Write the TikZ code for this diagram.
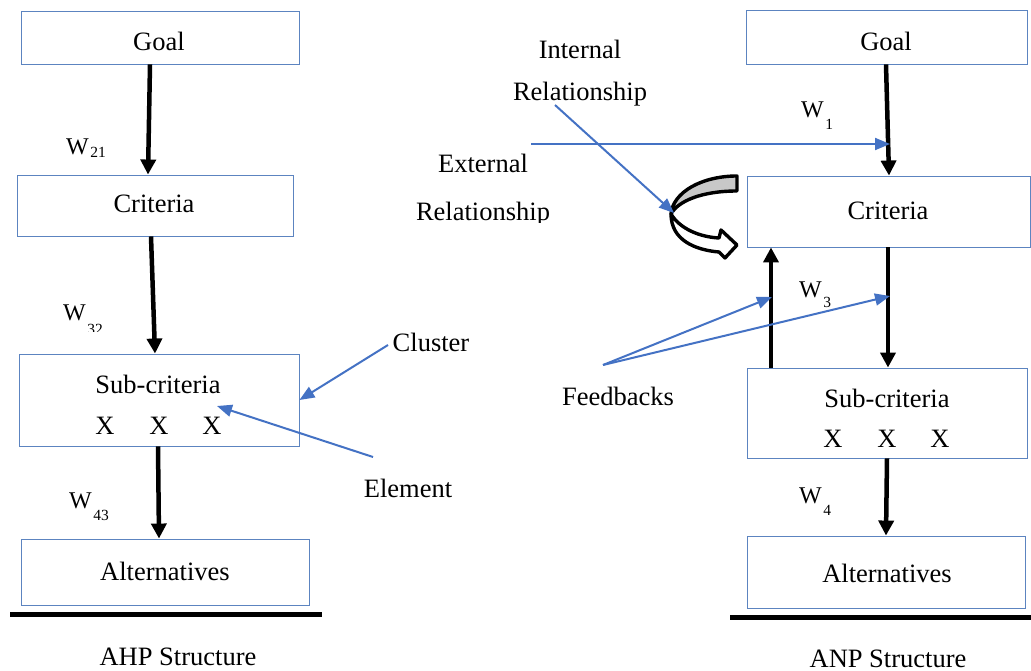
\documentclass[tikz,border=0pt]{standalone}
\usepackage{fontspec}
\setmainfont{Liberation Serif}
\usetikzlibrary{arrows.meta}
\definecolor{boxblue}{RGB}{92,132,192}
\definecolor{arrblue}{RGB}{68,114,196}
\definecolor{bandgray}{RGB}{200,200,200}
\newcommand{\Wlab}[2]{W\kern1.5pt\raisebox{-#2}{\fontsize{15.5}{15.5}\selectfont #1}}
\begin{document}
\begin{tikzpicture}[x=1pt,y=-1pt,
  box/.style={draw=boxblue, line width=0.9pt, inner sep=0pt},
  txt/.style={font=\fontsize{26.5}{31}\selectfont, inner sep=0pt, anchor=base},
  wtxt/.style={font=\fontsize{24}{28}\selectfont, inner sep=0pt, anchor=base west},
  blk/.style={line width=4.5pt, -{Triangle[length=15pt,width=15pt]}},
  blu/.style={draw=arrblue, line width=2pt, -{Triangle[length=15pt,width=12pt]}},
  baseline/.style={line width=5pt}]
\useasboundingbox (0,0) rectangle (1031,671);

% ---------- AHP (left) ----------
\node[box, minimum width=278pt, minimum height=53pt] (g1) at (160,37.5) {};
\node[box, minimum width=276pt, minimum height=61pt] (c1) at (155,205.5) {};
\node[box, minimum width=280pt, minimum height=92pt] (s1) at (159,400) {};
\node[box, minimum width=288pt, minimum height=66pt] (a1) at (165,572) {};

\node[txt] (g1t) at (159,51) {Goal};
\node[txt] (c1t) at (154,213) {Criteria};
\node[txt] (s1t) at (158,393) {Sub-criteria};
\node[txt] (s1x1) at (105,434) {X};
\node[txt] (s1x2) at (159,434) {X};
\node[txt] (s1x3) at (212,434) {X};
\node[txt] (a1t) at (165,580) {Alternatives};
\node[txt] (ahp) at (178,665) {AHP Structure};

\draw[blk] ([xshift=-10pt]g1.south) -- ([xshift=-7pt]c1.north);
\draw[blk] ([xshift=-4pt]c1.south) -- ([xshift=-4pt]s1.north);
\draw[blk] ([xshift=-1pt]s1.south) -- ([xshift=-6pt]a1.north);

\node[wtxt] (w21) at (66,155) {\Wlab{21}{3pt}};
\begin{scope}
  \clip (40,290) rectangle (130,331);
  \node[wtxt] (w32) at (63,320) {\Wlab{32}{14pt}};
\end{scope}
\node[wtxt] (w43) at (69,508) {\Wlab{43}{12pt}};

\node[txt] (cluster) at (431,351) {Cluster};
\node[txt] (element) at (408,497) {Element};
\coordinate (clst) at (388,345);
\coordinate (elst) at (373,457);
\coordinate (elend) at (217,406);
\draw[blu] (clst) -- (s1.east);
\draw[blu] (elst) -- (elend);

\draw[baseline] (10,614) -- (322,614);

% ---------- ANP (right) ----------
\node[box, minimum width=281pt, minimum height=54pt] (g2) at (886.5,37) {};
\node[box, minimum width=283pt, minimum height=71pt] (c2) at (888.5,211.5) {};
\node[box, minimum width=280pt, minimum height=90pt] (s2) at (887,413) {};
\node[box, minimum width=278pt, minimum height=72pt] (a2) at (886,572) {};

\node[txt] (g2t) at (886,51) {Goal};
\node[txt] (c2t) at (888,220) {Criteria};
\node[txt] (s2t) at (887,407) {Sub-criteria};
\node[txt] (s2x1) at (833,447) {X};
\node[txt] (s2x2) at (887,447) {X};
\node[txt] (s2x3) at (940,447) {X};
\node[txt] (a2t) at (887,582) {Alternatives};
\node[txt] (anp) at (888,667) {ANP Structure};

\draw[blk] ([xshift=-0.5pt]g2.south) -- ([xshift=0.5pt]c2.north);
\draw[blk] ([xshift=-0.5pt]c2.south) -- ([xshift=1pt]s2.north);
\draw[blk] ([xshift=-116pt]s2.north) -- ([xshift=-117.5pt]c2.south);
\draw[blk] ([xshift=0pt]s2.south) -- ([xshift=0pt]a2.north);

\node[wtxt] (w1) at (801,118) {\Wlab{1}{12pt}};
\node[wtxt] (w3) at (799,297) {\Wlab{3}{10pt}};
\node[wtxt] (w4) at (799,503) {\Wlab{4}{12pt}};

\node[txt] (intl1) at (580,59) {Internal};
\node[txt] (intl2) at (580,101) {Relationship};
\node[txt] (extl1) at (483,173) {External};
\begin{scope}
  \clip (400,180) rectangle (570,222.5);
  \node[txt] (extl2) at (483,221) {Relationship};
\end{scope}
\node[txt] (feed) at (618,405) {Feedbacks};

% curved (internal relationship) arrow
\filldraw[fill=bandgray, draw=black, line width=3.4pt, line join=round]
  (737,176) .. controls (702,176) and (673,192) .. (671,214)
  .. controls (678,201) and (702,191) .. (737,191) -- cycle;
\filldraw[fill=white, draw=black, line width=3.4pt, line join=round]
  (671,214) .. controls (671,240) and (695,250) .. (719,252)
  -- (725,258) -- (737,245) -- (721,230) -- (719,238)
  .. controls (700,237) and (680,229) .. (671,214) -- cycle;

% blue connectors
\coordinate (extst) at (531,144);
\coordinate (extend) at (890,144);
\draw[blu] (extst) -- (extend);
\coordinate (intst) at (555,105);
\coordinate (intend) at (674,213);
\draw[blu] (intst) -- (intend);
\coordinate (fbst) at (603,365);
\coordinate (fbend1) at (772,297);
\coordinate (fbend2) at (890,296);
\draw[blu] (fbst) -- (fbend1);
\draw[blu] (fbst) -- (fbend2);

\draw[baseline] (730,617) -- (1031,617);
\end{tikzpicture}
\end{document}
